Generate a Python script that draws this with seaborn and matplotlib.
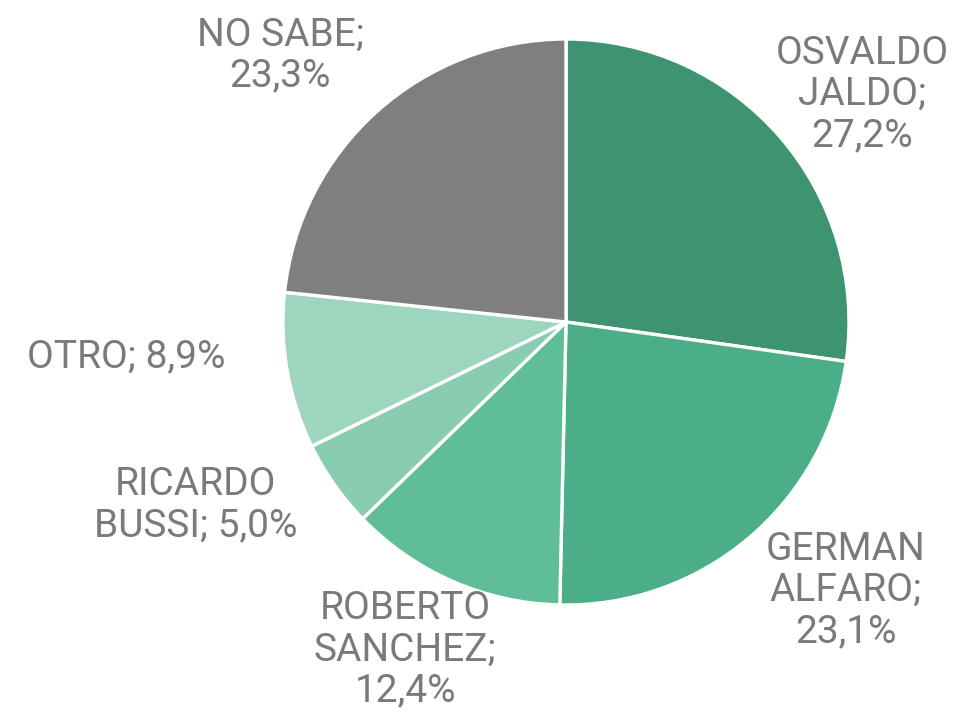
import numpy as np
import matplotlib
matplotlib.use('Agg')
import matplotlib.pyplot as plt
import seaborn as sns

# Data
labels = ['OSVALDO\nJALDO;\n27,2%', 'GERMAN\nALFARO;\n23,1%', 'ROBERTO\nSANCHEZ;\n12,4%',
          'RICARDO\nBUSSI; 5,0%', 'OTRO; 8,9%', 'NO SABE;\n23,3%']
values = [27.2, 23.1, 12.4, 5.0, 8.9, 23.3]
colors = ['#3e9370', '#4bae88', '#5fbd97', '#88cdb1', '#9dd5bf', '#7f7f7f']
# label placement: radial distance and angle shift from wedge middle
label_dist = [1.32, 1.37, 1.29, 1.46, 1.56, 1.38]
label_shift = [-3.5, 5.8, -2.5, -8.7, -5.5, 5.0]

sns.set_theme(style='white')
plt.rcParams['font.family'] = ['Roboto', 'DejaVu Sans']

W, H = 969, 725
fig = plt.figure(figsize=(W / 100, H / 100), dpi=100)
cx, cy, r = 566, 322, 283
ax = fig.add_axes([(cx - r) / W, (H - cy - r) / H, 2 * r / W, 2 * r / H])

wedges, _ = ax.pie(values, colors=colors, startangle=90, counterclock=False,
                   radius=1, wedgeprops=dict(edgecolor='white', linewidth=2.4))

for w, lab, d, s in zip(wedges, labels, label_dist, label_shift):
    ang = np.deg2rad((w.theta1 + w.theta2) / 2 + s)
    ax.text(d * np.cos(ang), d * np.sin(ang), lab, ha='center', va='center',
            fontsize=28, color='#7a7a7a', linespacing=1.15, clip_on=False)

ax.set_xlim(-1, 1)
ax.set_ylim(-1, 1)
ax.set_aspect('equal')
ax.axis('off')

fig.savefig('out.png', dpi=100)
